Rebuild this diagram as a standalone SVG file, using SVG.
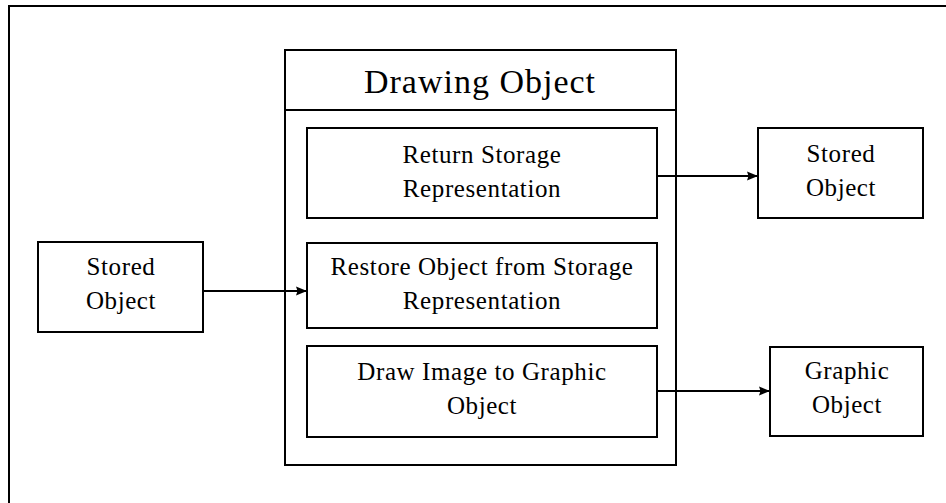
<svg xmlns="http://www.w3.org/2000/svg" width="946" height="503" viewBox="0 0 946 503">
  <style>
    .box { fill: #ffffff; stroke: #000000; stroke-width: 2; }
    .frame { fill: none; stroke: #000000; stroke-width: 2; }
    .lbl { font-family: "Liberation Serif", "Times New Roman", serif; font-size: 25px; letter-spacing: 0.6px; fill: #000000; text-anchor: middle; }
    .title { font-family: "Liberation Serif", "Times New Roman", serif; font-size: 34px; letter-spacing: 1px; fill: #000000; text-anchor: middle; }
    .wire { fill: none; stroke: #000000; stroke-width: 2; }
  </style>
  <defs>
    <marker id="arrow" viewBox="0 0 11 10" refX="11" refY="5" markerWidth="11" markerHeight="10" markerUnits="userSpaceOnUse" orient="auto">
      <path d="M0,0.5 L11,5 L0,9.5 L1.5,5 Z" fill="#000000"/>
    </marker>
  </defs>

  <rect width="946" height="503" fill="#ffffff"/>

  <!-- open page frame along the top and left edges -->
  <path class="frame" d="M9,503 V6 H946"/>

  <!-- container: Drawing Object -->
  <g id="drawing-object">
    <rect class="box" x="285" y="50" width="391" height="415"/>
    <line class="frame" x1="285" y1="110" x2="676" y2="110"/>
    <text class="title" x="480" y="93">Drawing Object</text>
  </g>

  <g id="return-storage">
    <rect class="box" x="307" y="128" width="350" height="90"/>
    <text class="lbl" x="482" y="163">Return Storage</text>
    <text class="lbl" x="482" y="197">Representation</text>
  </g>

  <g id="restore-object">
    <rect class="box" x="307" y="243" width="350" height="85"/>
    <text class="lbl" x="482" y="275">Restore Object from Storage</text>
    <text class="lbl" x="482" y="309">Representation</text>
  </g>

  <g id="draw-image">
    <rect class="box" x="307" y="346" width="350" height="91"/>
    <text class="lbl" x="482" y="380">Draw Image to Graphic</text>
    <text class="lbl" x="482" y="414">Object</text>
  </g>

  <g id="stored-object-in">
    <rect class="box" x="38" y="242" width="165" height="90"/>
    <text class="lbl" x="121" y="275">Stored</text>
    <text class="lbl" x="121" y="309">Object</text>
  </g>

  <g id="stored-object-out">
    <rect class="box" x="758" y="128" width="165" height="90"/>
    <text class="lbl" x="841" y="162">Stored</text>
    <text class="lbl" x="841" y="196">Object</text>
  </g>

  <g id="graphic-object">
    <rect class="box" x="770" y="347" width="153" height="89"/>
    <text class="lbl" x="847" y="379">Graphic</text>
    <text class="lbl" x="847" y="413">Object</text>
  </g>

  <!-- connectors -->
  <g id="connectors">
    <line class="wire" x1="203" y1="291" x2="307" y2="291" marker-end="url(#arrow)"/>
    <line class="wire" x1="657" y1="176" x2="758" y2="176" marker-end="url(#arrow)"/>
    <line class="wire" x1="657" y1="391" x2="770" y2="391" marker-end="url(#arrow)"/>
  </g>
</svg>
